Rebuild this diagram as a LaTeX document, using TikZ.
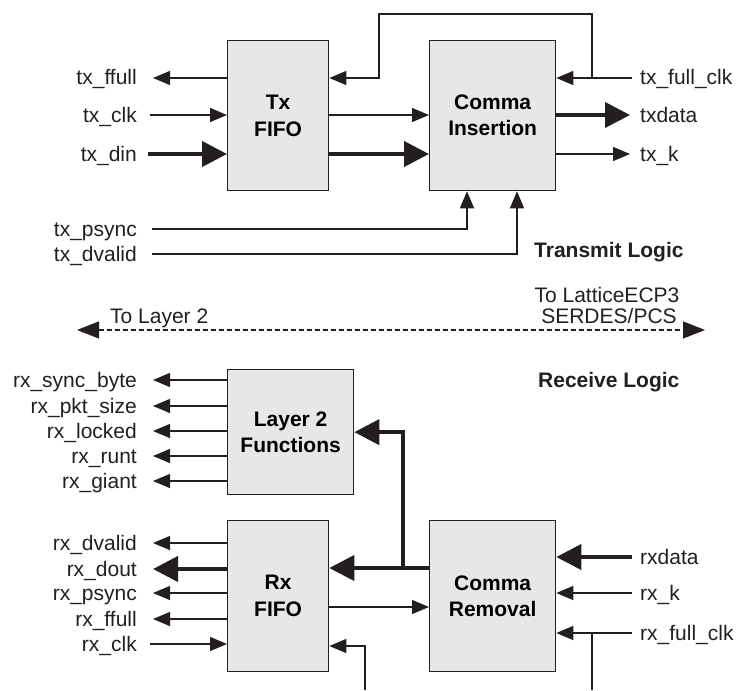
\documentclass[tikz,border=0pt]{standalone}
\usepackage{fontspec}
\setmainfont{Liberation Sans}
\usetikzlibrary{arrows.meta}
\definecolor{boxgray}{RGB}{230,231,232}
\definecolor{ink}{RGB}{35,31,32}
\newcommand{\labfont}{\fontsize{21}{26}\selectfont}
\begin{document}
\begin{tikzpicture}[x=1pt,y=-1pt,
  blk/.style={draw=ink, fill=boxgray, line width=1.3pt, inner sep=0pt,
    align=center, font=\labfont\bfseries, anchor=north west},
  lab/.style={inner sep=0pt, font=\labfont, text=ink},
  blab/.style={inner sep=0pt, font=\labfont\bfseries, text=ink},
  ta/.style={draw=ink, line width=1.3pt, -{Triangle[length=17pt,width=14pt]}},
  tl/.style={draw=ink, line width=1.3pt},
  tk/.style={draw=ink, line width=4pt, miter limit=10, -{Triangle[length=25pt,width=25pt]}},
  dsh/.style={draw=ink, line width=1.3pt, dash pattern=on 5pt off 3pt,
    {Triangle[length=22pt,width=17pt]}-{Triangle[length=22pt,width=17pt]}}
]
\useasboundingbox (0,0) rectangle (738,690);

% ---------- blocks ----------
\node[blk, minimum width=101pt, minimum height=150pt] (txf) at (227,40) {Tx\\[1pt]FIFO};
\node[blk, minimum width=126pt, minimum height=150pt] (cins) at (429,40) {Comma\\Insertion};
\node[blk, minimum width=126pt, minimum height=125pt] (l2f) at (227,369) {Layer 2\\Functions};
\node[blk, minimum width=101pt, minimum height=151pt] (rxf) at (227,520) {Rx\\[1pt]FIFO};
\node[blk, minimum width=126pt, minimum height=151pt] (crem) at (429,520) {Comma\\Removal};

% ---------- transmit side ----------
\node[lab, anchor=base east] (ltxffull) at (137,85) {tx\_ffull};
\node[lab, anchor=base east] (ltxclk) at (137,122) {tx\_clk};
\node[lab, anchor=base east] (ltxdin) at (137,161) {tx\_din};
\node[lab, anchor=base east] (ltxpsync) at (137,236) {tx\_psync};
\node[lab, anchor=base east] (ltxdvalid) at (137,261) {tx\_dvalid};
\node[lab, anchor=base west] (ltxfullclk) at (640,85) {tx\_full\_clk};
\node[lab, anchor=base west] (ltxdata) at (640,122) {txdata};
\node[lab, anchor=base west] (ltxk) at (640,161) {tx\_k};
\node[blab, anchor=base west] (ltxlogic) at (534,257) {Transmit Logic};

\coordinate (pffull) at (153,78);
\coordinate (ptxclk) at (150,115);
\coordinate (ptxdin) at (148,154);
\coordinate (pfullclk) at (632,78);
\coordinate (jfc) at (592,78);
\coordinate (fbl) at (379,14);
\coordinate (ptxdata) at (630,115);
\coordinate (ptxk) at (630,154);
\coordinate (ppsync) at (152,229);
\coordinate (pdval) at (152,254);

\draw[ta] (txf.west |- pffull) -- (pffull);
\draw[ta] (ptxclk) -- (ptxclk -| txf.west);
\draw[tk] (ptxdin) -- (ptxdin -| txf.west);
\draw[ta] (txf.east |- ptxclk) -- (cins.west |- ptxclk);
\draw[tk] (txf.east |- ptxdin) -- (cins.west |- ptxdin);
\draw[ta] (pfullclk) -- (pfullclk -| cins.east);
\draw[ta] (jfc) |- (fbl) |- (txf.east |- pffull);
\draw[tk] (cins.east |- ptxdata) -- (ptxdata);
\draw[ta] (cins.east |- ptxk) -- (ptxk);
\draw[ta] (ppsync) -| ([xshift=38pt]cins.south west);
\draw[ta] (pdval) -| ([xshift=88pt]cins.south west);

% ---------- boundary ----------
\coordinate (dl) at (77,330);
\coordinate (dr) at (705,330);
\draw[dsh] (dl) -- (dr);
\node[lab, anchor=base west] (ltol2) at (110,323) {To Layer 2};
\node[lab, anchor=base] (ltolat) at (607,302) {To LatticeECP3};
\node[lab, anchor=base] (ltoserdes) at (609,323) {SERDES/PCS};
\node[blab, anchor=base west] (lrxlogic) at (538,387) {Receive Logic};

% ---------- receive side ----------
\foreach \yy/\tt/\nn in {380/rx\_sync\_byte/a, 406/rx\_pkt\_size/b, 431/rx\_locked/c,
                         456/rx\_runt/d, 481/rx\_giant/e}{
  \coordinate (o\nn) at (153,\yy);
  \draw[ta] (l2f.west |- o\nn) -- (o\nn);
  \node[lab, anchor=base east] (lo\nn) at (137,\yy+7) {\tt};
}

\coordinate (pdvalid) at (153,543);
\coordinate (pdout) at (153,569);
\coordinate (prpsync) at (153,593);
\coordinate (prffull) at (153,619);
\coordinate (prclk) at (150,644);
\node[lab, anchor=base east] (lrxdvalid) at (137,550) {rx\_dvalid};
\node[lab, anchor=base east] (lrxdout) at (137,576) {rx\_dout};
\node[lab, anchor=base east] (lrxpsync) at (137,600) {rx\_psync};
\node[lab, anchor=base east] (lrxffull) at (137,626) {rx\_ffull};
\node[lab, anchor=base east] (lrxclk) at (137,651) {rx\_clk};
\draw[ta] (rxf.west |- pdvalid) -- (pdvalid);
\draw[tk] (rxf.west |- pdout) -- (pdout);
\draw[ta] (rxf.west |- prpsync) -- (prpsync);
\draw[ta] (rxf.west |- prffull) -- (prffull);
\draw[ta] (prclk) -- (prclk -| rxf.west);

\coordinate (jrx) at (403,568);
\coordinate (pmid) at (380,607);
\coordinate (pb1) at (365,690);
\coordinate (prxb) at (365,646);
\draw[tk] (jrx) |- (l2f.east);
\draw[tk] (crem.west |- jrx) -- (rxf.east |- jrx);
\draw[ta] (rxf.east |- pmid) -- (crem.west |- pmid);
\draw[ta] (pb1) |- (prxb -| rxf.east);

\coordinate (prxdata) at (632,557);
\coordinate (prxk) at (632,593);
\coordinate (prxfc) at (632,633);
\coordinate (jrfc) at (592,633);
\coordinate (pb2) at (592,690);
\node[lab, anchor=base west] (lrxdata) at (640,564) {rxdata};
\node[lab, anchor=base west] (lrxk) at (640,600) {rx\_k};
\node[lab, anchor=base west] (lrxfullclk) at (640,640) {rx\_full\_clk};
\draw[tk] (prxdata) -- (prxdata -| crem.east);
\draw[ta] (prxk) -- (prxk -| crem.east);
\draw[ta] (prxfc) -- (prxfc -| crem.east);
\draw[tl] (jrfc) -- (pb2);
\end{tikzpicture}
\end{document}
